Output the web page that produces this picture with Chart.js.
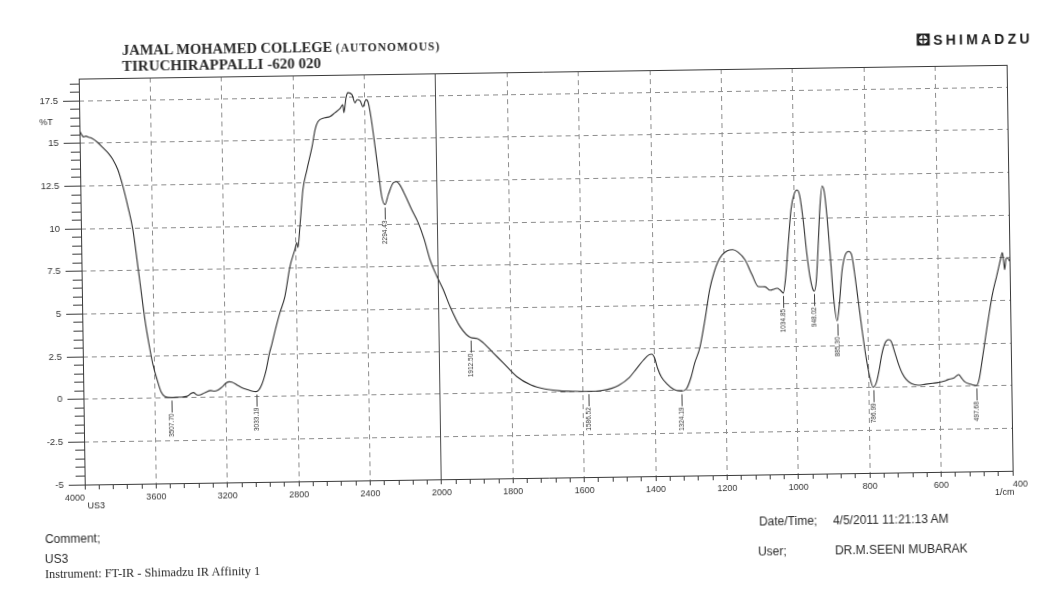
<!DOCTYPE html>
<html>
<head>
<meta charset="utf-8">
<script src="https://cdn.jsdelivr.net/npm/chart.js@4.4.1/dist/chart.umd.min.js"></script>
<style>
  html, body { margin: 0; padding: 0; background: #fff; }
  body { width: 1051px; height: 594px; overflow: hidden; position: relative; }
  /* the printed sheet sits slightly askew */
  #sheet { position: absolute; left: 0; top: 0; width: 1051px; height: 594px;
           transform: rotate(-0.85deg); transform-origin: 525.5px 297px; }
  #sheet canvas { position: absolute; left: 0; top: 0; }
  .t { position: absolute; white-space: nowrap; line-height: 1; color: #2a2a2a; }
  .serif { font-family: 'Liberation Serif', 'Times New Roman', serif; }
  .sans { font-family: 'Liberation Sans', Arial, sans-serif; }
</style>
</head>
<body>
<div id="sheet">
  <canvas id="ir" width="1051" height="594"></canvas>

  <div class="t serif" style="left:125.7px;top:37.4px;font-size:14.5px;font-weight:bold;">JAMAL MOHAMED COLLEGE <span style="font-size:11.5px;letter-spacing:1px;">(AUTONOMOUS)</span></div>
  <div class="t serif" style="left:125.5px;top:52.8px;font-size:15px;font-weight:bold;">TIRUCHIRAPPALLI -620 020</div>

  <svg style="position:absolute;left:920px;top:39px;" width="14" height="13" viewBox="0 0 14 13">
    <rect x="0.5" y="0.5" width="13" height="12" fill="#1e1e1e"/>
    <circle cx="7" cy="6.5" r="4.4" fill="#fff"/>
    <path d="M7 2.1V10.9M2.6 6.5H11.4" stroke="#1e1e1e" stroke-width="1.3"/>
  </svg>
  <div class="t sans" style="left:937px;top:38.5px;font-size:14px;font-weight:bold;letter-spacing:3.2px;color:#1e1e1e;">SHIMADZU</div>

  <div class="t sans" style="left:42px;top:111px;font-size:9px;">%T</div>
  <div class="t sans" style="left:84.5px;top:495px;font-size:9px;">US3</div>
  <div class="t sans" style="left:992px;top:495px;font-size:9px;">1/cm</div>

  <div class="t sans" style="left:41.4px;top:525.5px;font-size:12px;">Comment;</div>
  <div class="t sans" style="left:41.1px;top:545.5px;font-size:12px;">US3</div>
  <div class="t serif" style="left:40.9px;top:560.5px;font-size:12.3px;">Instrument: FT-IR - Shimadzu IR Affinity 1</div>

  <div class="t sans" style="left:755.7px;top:518.8px;font-size:12px;">Date/Time;</div>
  <div class="t sans" style="left:829.7px;top:518.8px;font-size:12px;">4/5/2011 11:21:13 AM</div>
  <div class="t sans" style="left:754.2px;top:548.8px;font-size:12px;">User;</div>
  <div class="t sans" style="left:831.2px;top:548.8px;font-size:12px;">DR.M.SEENI MUBARAK</div>
</div>

<script>
// Spectrum: wavenumber (1/cm) and transmittance (%T)
const wavenumber = [
  4000, 3990, 3978, 3965, 3950, 3930, 3900, 3870, 3840, 3815, 3788, 3761, 3735, 3709, 3684, 3669,
  3649, 3628, 3608, 3586, 3565, 3543, 3507.70, 3470, 3440, 3416, 3395, 3383, 3365, 3352, 3320, 3286,
  3265, 3243, 3220, 3201, 3180, 3167, 3140, 3114, 3080, 3050, 3033.19, 3015, 3000, 2988, 2973, 2955,
  2939, 2916, 2892, 2863, 2832, 2803, 2791, 2786, 2773, 2753, 2729, 2698, 2680, 2663, 2624, 2596,
  2567, 2539, 2522, 2517, 2504, 2493, 2470, 2454, 2442, 2425, 2410, 2392, 2381, 2366, 2350, 2330,
  2312, 2294.43, 2275, 2245, 2228, 2210, 2182, 2145, 2110, 2077, 2047, 2009, 1988, 1969, 1942, 1912.50,
  1895, 1878, 1851, 1823, 1785, 1746, 1707, 1665, 1623, 1586.52, 1550, 1520, 1500, 1470, 1450, 1430,
  1415, 1406, 1398, 1390, 1380, 1365, 1345, 1324.19, 1310, 1298, 1286, 1271, 1255, 1241, 1228, 1217,
  1205, 1190, 1175, 1160, 1141, 1122, 1105, 1086, 1072, 1052, 1044, 1034.85, 1028, 1020, 1010, 1000,
  992, 985, 976, 968, 960, 952, 948.02, 942, 935, 929, 922, 916, 910, 902, 894, 885.30,
  878, 870, 860, 850, 842, 835, 826, 816, 806, 797, 786.99, 778, 770, 762, 752, 742,
  735, 726, 716, 705, 694, 680, 661, 640, 620, 605, 590, 577, 560, 547, 540, 530,
  515, 505, 497.68, 490, 480, 470, 462, 450, 437, 430, 424, 420, 416, 414, 410, 406, 400
];
const transmittance = [
  15.75, 15.55, 15.38, 15.42, 15.36, 15.28, 15.05, 14.73, 14.40, 14.02, 13.42, 12.43, 11.25, 9.90, 7.73, 6.38,
  4.61, 3.15, 1.98, 1.09, 0.38, 0.09, 0.02, 0.04, 0.06, 0.10, 0.26, 0.30, 0.16, 0.14, 0.28, 0.40,
  0.36, 0.44, 0.62, 0.82, 0.90, 0.88, 0.72, 0.56, 0.42, 0.32, 0.30, 0.42, 0.70, 1.05, 1.60, 2.50,
  3.10, 4.03, 4.91, 5.84, 7.60, 8.59, 9.00, 8.70, 9.93, 12.10, 13.26, 14.61, 15.60, 16.07, 16.29, 16.35,
  16.58, 16.81, 17.04, 16.57, 17.45, 17.74, 17.62, 17.14, 17.32, 17.26, 16.90, 17.31, 17.19, 16.31, 14.97, 13.20,
  11.62, 11.15, 11.73, 12.43, 12.48, 12.30, 11.71, 10.83, 10.06, 9.06, 7.88, 6.88, 6.14, 5.11, 3.93, 3.28,
  3.22, 2.97, 2.38, 1.78, 0.95, 0.45, 0.20, 0.08, 0.04, 0.03, 0.06, 0.18, 0.35, 0.80, 1.30, 1.80,
  2.10, 2.15, 1.90, 1.30, 0.80, 0.40, 0.05, -0.05, 0.10, 0.70, 1.60, 2.50, 4.20, 5.90, 6.90, 7.50,
  7.90, 8.15, 8.20, 8.05, 7.60, 6.72, 6.02, 6.00, 5.80, 5.90, 5.80, 5.62, 6.50, 8.30, 10.50, 11.45,
  11.65, 11.30, 9.80, 8.00, 6.60, 5.80, 5.71, 6.30, 8.50, 10.60, 11.85, 11.50, 10.20, 7.80, 5.20, 3.94,
  5.00, 6.80, 7.80, 8.00, 7.80, 6.80, 5.20, 3.40, 1.80, 0.70, 0.02, 0.30, 1.00, 1.90, 2.60, 2.80,
  2.70, 2.10, 1.40, 0.80, 0.44, 0.20, 0.10, 0.15, 0.20, 0.24, 0.30, 0.40, 0.50, 0.69, 0.50, 0.25,
  0.12, 0.05, 0.03, 0.40, 1.60, 2.90, 3.90, 5.30, 6.40, 7.00, 7.50, 7.80, 7.20, 6.80, 7.40, 7.50, 7.30
];
// Labelled band positions (1/cm)
const peakWavenumbers = [3507.70, 3033.19, 2294.43, 1912.50, 1586.52, 1324.19, 1034.85, 948.02, 885.30, 786.99, 497.68];

// Axis ranges
const yMin = -5, yMax = 18.8;
const wnHigh = 4000, wnLow = 400, wnBreak = 2000;

// The abscissa is compressed 2:1 above 2000 1/cm
const toAxis = w => (w > wnBreak ? wnBreak + (w - wnBreak) / 2 : w);
const fromAxis = p => (p > wnBreak ? wnBreak + (p - wnBreak) * 2 : p);
const isMultiple = (v, s) => Math.abs(v / s - Math.round(v / s)) < 1e-6;

const AXIS = '#3a3a3a';
const GRID = '#8d8d8d';
const CLEAR = 'rgba(0,0,0,0)';
const fixWidth = w => scale => { scale.width = w; };
const fixHeight = h => scale => { scale.height = h; };

Chart.defaults.font.family = "'Liberation Sans', Arial, sans-serif";
Chart.defaults.color = '#333';

const peakMarks = {
  id: 'peakMarks',
  afterDatasetsDraw(chart) {
    const { ctx, scales: { x, y } } = chart;
    ctx.save();
    ctx.strokeStyle = '#444';
    ctx.fillStyle = '#333';
    ctx.lineWidth = 1;
    ctx.font = "6.5px 'Liberation Sans', Arial, sans-serif";
    peakWavenumbers.forEach(w => {
      const i = wavenumber.indexOf(w);
      const px = Math.round(x.getPixelForValue(toAxis(w))) + 0.5;
      const py = y.getPixelForValue(transmittance[i]);
      ctx.beginPath();
      ctx.moveTo(px, py + 3);
      ctx.lineTo(px, py + 15);
      ctx.stroke();
      ctx.save();
      ctx.translate(px, py + 16);
      ctx.rotate(-Math.PI / 2);
      ctx.textAlign = 'right';
      ctx.textBaseline = 'middle';
      ctx.fillText(w.toFixed(2), 0, 0);
      ctx.restore();
    });
    ctx.restore();
  }
};

new Chart(document.getElementById('ir'), {
  type: 'line',
  data: {
    datasets: [{
      data: wavenumber.map((w, i) => ({ x: toAxis(w), y: transmittance[i] })),
      borderColor: '#303030',
      borderWidth: 1.1,
      pointRadius: 0,
      fill: false,
      cubicInterpolationMode: 'monotone',
      xAxisID: 'x',
      yAxisID: 'y'
    }]
  },
  options: {
    responsive: false,
    animation: false,
    devicePixelRatio: 1,
    layout: { padding: { left: 31, right: 41, top: 72, bottom: 86 } },
    plugins: { legend: { display: false }, tooltip: { enabled: false } },
    scales: {
      x: {
        type: 'linear', position: 'bottom', weight: 0,
        min: toAxis(wnLow), max: toAxis(wnHigh), reverse: true,
        afterFit: fixHeight(30),
        ticks: {
          stepSize: 40, autoSkip: false, maxRotation: 0, minRotation: 0,
          align: 'inner', padding: 3, font: { size: 9 },
          callback: v => (isMultiple(v, 200) ? String(fromAxis(v)) : '')
        },
        grid: {
          color: c => {
            const v = c.tick ? c.tick.value : null;
            return v !== null && isMultiple(v, 200) && v > toAxis(wnLow) && v < toAxis(wnHigh) && v !== wnBreak ? GRID : CLEAR;
          },
          lineWidth: 1, tickLength: 5, tickColor: AXIS
        },
        border: { display: true, color: AXIS, width: 1, dash: [5, 4] }
      },
      xBreak: {
        type: 'linear', position: 'bottom', weight: 5,
        min: toAxis(wnLow), max: toAxis(wnHigh), reverse: true,
        afterFit: fixHeight(0),
        afterBuildTicks: s => { s.ticks = [{ value: wnBreak }]; },
        ticks: { display: false },
        grid: { color: '#4a4a4a', lineWidth: 1, drawTicks: false },
        border: { display: false }
      },
      xTop: {
        type: 'linear', position: 'top',
        min: toAxis(wnLow), max: toAxis(wnHigh), reverse: true,
        afterFit: fixHeight(0),
        ticks: { display: false },
        grid: { display: false, drawTicks: false },
        border: { display: true, color: AXIS, width: 1 }
      },
      y: {
        type: 'linear', position: 'left', weight: 1,
        min: yMin, max: yMax,
        afterFit: fixWidth(42),
        ticks: { stepSize: 2.5, includeBounds: false, padding: 5, font: { size: 9.5 }, callback: v => String(v) },
        grid: {
          color: c => (c.tick && c.tick.value > yMin ? GRID : CLEAR),
          lineWidth: 1, tickLength: 7, tickColor: AXIS
        },
        border: { display: false, dash: [5, 4] }
      },
      yMinor: {
        type: 'linear', position: 'left', weight: 0,
        min: yMin, max: yMax,
        afterFit: fixWidth(9),
        ticks: { display: false, stepSize: 0.5, includeBounds: false },
        grid: { drawOnChartArea: false, tickLength: 9, tickColor: AXIS },
        border: { display: true, color: AXIS, width: 1 }
      },
      yRight: {
        type: 'linear', position: 'right',
        min: yMin, max: yMax,
        afterFit: fixWidth(0),
        ticks: { display: false },
        grid: { display: false, drawTicks: false },
        border: { display: true, color: AXIS, width: 1 }
      }
    }
  },
  plugins: [peakMarks]
});
</script>
</body>
</html>
